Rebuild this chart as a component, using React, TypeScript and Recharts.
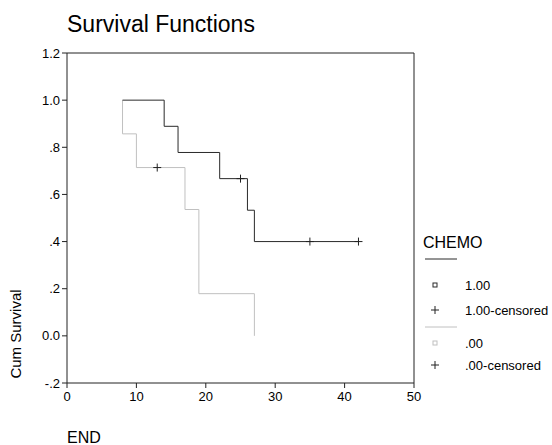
import { ComposedChart, Line, Scatter, XAxis, YAxis, ReferenceLine } from 'recharts'

// CHEMO = 1.00
const chemoTimes = [8, 14, 16, 22, 26, 27, 42]
const chemoSurvival = [1.0, 0.889, 0.778, 0.667, 0.533, 0.4, 0.4]
const chemoCensorTimes = [25, 35, 42]
const chemoCensorSurvival = [0.667, 0.4, 0.4]

// CHEMO = .00
const noChemoTimes = [8, 8, 10, 17, 19, 27]
const noChemoSurvival = [1.0, 0.857, 0.714, 0.536, 0.179, 0]
const noChemoCensorTimes = [13]
const noChemoCensorSurvival = [0.714]

const xTicks = [0, 10, 20, 30, 40, 50]
const yTicks = [-0.2, 0, 0.2, 0.4, 0.6, 0.8, 1.0, 1.2]

const FONT = '"Liberation Sans", Arial, sans-serif'
const DARK = '#2a2a2a'
const LIGHT = '#c0c0c0'

const toPoints = (ts: number[], ss: number[]) => ts.map((t, i) => ({ t, s: ss[i] }))

const chemoLine = toPoints(chemoTimes, chemoSurvival)
const chemoCensored = toPoints(chemoCensorTimes, chemoCensorSurvival)
const noChemoLine = toPoints(noChemoTimes, noChemoSurvival)
const noChemoCensored = toPoints(noChemoCensorTimes, noChemoCensorSurvival)

const fmtY = (v: number) => {
    if (Math.abs(v) < 1e-9) return '0.0'
    const s = v.toFixed(1)
    return s.replace(/^(-?)0\./, '$1.')
}

const Plus = (props: any) => {
    const { cx, cy } = props
    if (cx == null || cy == null) return null
    return <path d={`M${cx - 4},${cy}H${cx + 4}M${cx},${cy - 4}V${cy + 4}`} stroke="#222" strokeWidth={1} fill="none" />
}

function Overlay() {
    const tx = 465
    return (
        <svg width={552} height={445} style={{ position: 'absolute', left: 0, top: 0, pointerEvents: 'none' }} fontFamily={FONT}>
            <text x={67} y={32} fontSize={23} fill="#000">Survival Functions</text>
            <text x={0} y={0} fontSize={15} fill="#000" textAnchor="middle" transform="translate(21,334) rotate(-90)">Cum Survival</text>
            <text x={67} y={443} fontSize={16} fill="#000">END</text>

            <text x={423} y={248} fontSize={16} fill="#000">CHEMO</text>
            <line x1={425} x2={457} y1={259} y2={259} stroke={DARK} strokeWidth={1} />
            <rect x={433} y={283} width={4} height={4} fill="none" stroke={DARK} strokeWidth={1} />
            <text x={tx} y={289.5} fontSize={13} fill="#000">1.00</text>
            <path d="M431,310H439M435,306V314" stroke="#222" strokeWidth={1} />
            <text x={tx} y={314.5} fontSize={13} fill="#000">1.00-censored</text>
            <line x1={425} x2={457} y1={327} y2={327} stroke={LIGHT} strokeWidth={1} />
            <rect x={433} y={341} width={4} height={4} fill="none" stroke={LIGHT} strokeWidth={1} />
            <text x={tx} y={347.5} fontSize={13} fill="#000">.00</text>
            <path d="M431,365H439M435,361V369" stroke="#222" strokeWidth={1} />
            <text x={tx} y={369.5} fontSize={13} fill="#000">.00-censored</text>
        </svg>
    )
}

export default function App() {
    return (
        <div style={{ position: 'absolute', left: 0, top: 0, width: 552, height: 445, background: '#fff' }}>
            <ComposedChart width={552} height={445} margin={{ top: 53, right: 138, bottom: 37, left: 0 }}>
                <XAxis
                    dataKey="t"
                    type="number"
                    domain={[0, 50]}
                    ticks={xTicks}
                    height={25}
                    tickSize={5}
                    tickMargin={4}
                    stroke="#222"
                    tick={{ fill: '#000', fontSize: 13, fontFamily: FONT }}
                    allowDataOverflow
                />
                <YAxis
                    dataKey="s"
                    type="number"
                    domain={[-0.2, 1.2]}
                    ticks={yTicks}
                    width={67}
                    tickSize={5}
                    tickMargin={2}
                    stroke="#222"
                    tickFormatter={fmtY}
                    tick={{ fill: '#000', fontSize: 13, fontFamily: FONT }}
                    allowDataOverflow
                />
                <ReferenceLine y={1.2} stroke="#222" strokeWidth={1} />
                <ReferenceLine x={50} stroke="#222" strokeWidth={1} />
                <Line data={noChemoLine} dataKey="s" type="stepAfter" stroke={LIGHT} strokeWidth={1} dot={false} isAnimationActive={false} />
                <Line data={chemoLine} dataKey="s" type="stepAfter" stroke={DARK} strokeWidth={1} dot={false} isAnimationActive={false} />
                <Scatter data={chemoCensored} dataKey="s" shape={<Plus />} isAnimationActive={false} />
                <Scatter data={noChemoCensored} dataKey="s" shape={<Plus />} isAnimationActive={false} />
            </ComposedChart>
            <Overlay />
        </div>
    )
}
